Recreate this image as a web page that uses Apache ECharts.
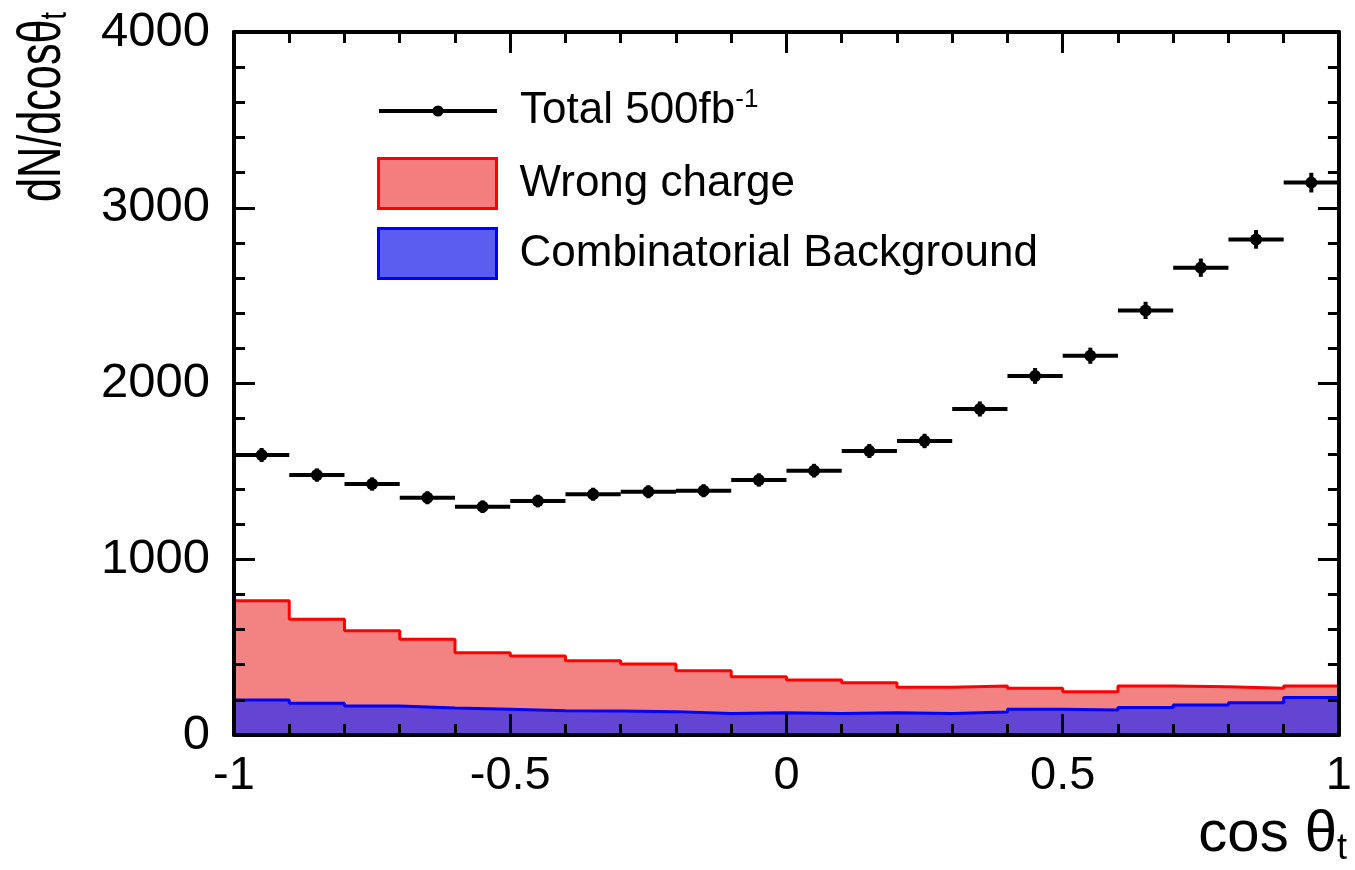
<!DOCTYPE html>
<html><head><meta charset="utf-8">
<script src="https://cdn.jsdelivr.net/npm/echarts@6/dist/echarts.min.js"></script>
<style>html,body{margin:0;padding:0;background:#fff}#c{width:1355px;height:870px}</style>
</head><body><div id="c"></div>
<script>
// ---- data ----
const binEdges = [-1,-0.9,-0.8,-0.7,-0.6,-0.5,-0.4,-0.3,-0.2,-0.1,0,0.1,0.2,0.3,0.4,0.5,0.6,0.7,0.8,0.9,1];
const totalCounts = [1593,1479,1428,1350,1299,1331,1370,1384,1390,1451,1504,1616,1673,1855,2043,2158,2416,2659,2820,3143];
const totalErrors = [40,38,38,37,36,36,37,37,37,38,39,40,41,43,45,46,49,52,53,56];
const wrongCharge = [764,658,593,545,468,450,423,404,366,332,313,298,271,279,266,246,279,275,266,279];
const combinatorial = [199,180,165,154,146,138,137,133,123,127,123,127,123,131,146,142,157,171,184,214];
const seriesNames = ['Total 500fb-1','Wrong charge','Combinatorial Background'];

const FONT = '"Liberation Sans", Arial, Helvetica, sans-serif';

function stepData(vals){
  const last = binEdges.length - 1;
  const d = [[binEdges[0], 0]];
  vals.forEach((v,i)=>d.push([binEdges[i], v]));
  d.push([binEdges[last], vals[vals.length-1]]);
  d.push([binEdges[last], 0]);
  return d;
}
const totalData = totalCounts.map((v,i)=>[(binEdges[i]+binEdges[i+1])/2, v, binEdges[i], binEdges[i+1], totalErrors[i]]);

const axisCommon = {
  axisLine:{show:true, onZero:false, lineStyle:{color:'#000', width:4}},
  axisTick:{show:true, inside:true, length:21, lineStyle:{color:'#000', width:3}},
  minorTick:{show:true, splitNumber:5, length:11, lineStyle:{color:'#000', width:3}},
  splitLine:{show:false}, minorSplitLine:{show:false}, z:10
};
const labelStyle = {color:'#000', fontFamily:FONT, formatter:v=>String(v)};

const chart = echarts.init(document.getElementById('c'), null, {renderer:'canvas'});
chart.setOption({
  animation:false,
  backgroundColor:'#fff',
  grid:{left:234, top:32, width:1112, height:703, containLabel:false},
  xAxis:[
    Object.assign({type:'value', min:-1, max:1, interval:0.5, position:'bottom',
      axisLabel:Object.assign({margin:18, fontSize:47}, labelStyle)}, axisCommon),
    Object.assign({type:'value', min:-1, max:1, interval:0.5, position:'top',
      axisLabel:{show:false}}, axisCommon)
  ],
  yAxis:[
    Object.assign({type:'value', min:0, max:4000, interval:1000, position:'left',
      axisLabel:Object.assign({margin:24, fontSize:49}, labelStyle)}, axisCommon),
    Object.assign({type:'value', min:0, max:4000, interval:1000, position:'right',
      axisLabel:{show:false}}, axisCommon)
  ],
  legend:[
    {data:[{name:seriesNames[0]}], left:377, top:87, orient:'vertical', padding:0,
     itemWidth:118, itemHeight:14, selectedMode:false,
     lineStyle:{color:'#000', width:4, opacity:1, type:'solid'},
     itemStyle:{color:'#000'},
     formatter:()=> 'Total 500fb{sup|-1}',
     textStyle:{fontFamily:FONT, fontSize:44, color:'#000', padding:[0,0,0,18],
       rich:{sup:{fontFamily:FONT, fontSize:26, color:'#000', padding:[0,0,22,0]}}}},
    {data:[
       {name:seriesNames[1], icon:'rect', itemStyle:{color:'#f47e7e', borderColor:'#ff0000', borderWidth:3}},
       {name:seriesNames[2], icon:'rect', itemStyle:{color:'#5b5cf0', borderColor:'#0000ff', borderWidth:3}}],
     left:377, top:157, orient:'vertical', padding:0,
     itemWidth:118, itemHeight:50, itemGap:17, selectedMode:false,
     textStyle:{fontFamily:FONT, fontSize:44, color:'#000', padding:[0,0,0,18], lineHeight:50}}
  ],
  graphic:[
    {type:'text', x:43, y:12, rotation:Math.PI/2, scaleX:0.92, scaleY:1.3, z:20,
     style:{text:'dN/dcosθ{s|t}', fill:'#000', font:'47px '+FONT, align:'right', verticalAlign:'middle',
       rich:{s:{fontSize:29, fontFamily:FONT, fill:'#000', padding:[20,0,0,0]}}}},
    {type:'text', x:1347, y:835, z:20,
     style:{text:'cos θ{s|t}', fill:'#000', font:'58px '+FONT, align:'right', verticalAlign:'middle',
       rich:{s:{fontSize:36, fontFamily:FONT, fill:'#000', padding:[28,0,0,0]}}}}
  ],
  series:[
    {name:seriesNames[1], type:'line', step:'end', data:stepData(wrongCharge), symbol:'none',
     lineStyle:{color:'#ff0000', width:3}, itemStyle:{color:'#ff0000'},
     areaStyle:{color:'#f38283', opacity:1}, z:2},
    {name:seriesNames[2], type:'line', step:'end', data:stepData(combinatorial), symbol:'none',
     lineStyle:{color:'#0000ff', width:3}, itemStyle:{color:'#0000ff'},
     areaStyle:{color:'#6444d2', opacity:1}, z:3},
    {name:seriesNames[0], type:'line', data:totalData.map(d=>[d[0], d[1]]),
     symbol:'circle', symbolSize:12, itemStyle:{color:'#000'},
     lineStyle:{width:0, opacity:0}, z:6},
    {name:seriesNames[0], type:'custom', data:totalData, z:5,
     renderItem:function(params, api){
       const y = api.value(1), e = api.value(4), xc = api.value(0);
       const a = api.coord([api.value(2), y]), b = api.coord([api.value(3), y]);
       const c = api.coord([xc, y + e]), d = api.coord([xc, y - e]);
       return {type:'group', children:[
         {type:'line', shape:{x1:a[0], y1:a[1], x2:b[0], y2:b[1]}, style:{stroke:'#000', lineWidth:4}},
         {type:'line', shape:{x1:c[0], y1:c[1], x2:d[0], y2:d[1]}, style:{stroke:'#000', lineWidth:4}}
       ]};
     }}
  ]
});
</script></body></html>
